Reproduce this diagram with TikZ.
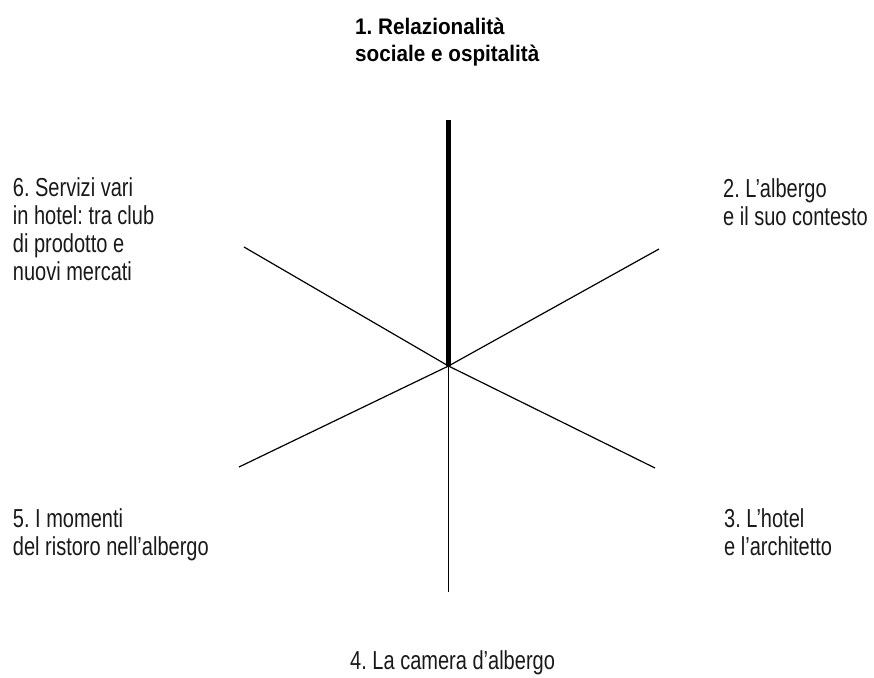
\documentclass[tikz,border=0pt]{standalone}
\usepackage{fontspec}
\setmainfont{Liberation Sans}[FakeStretch=0.77]
\newfontfamily\titlefont{Liberation Sans}[FakeStretch=0.92]
\frenchspacing
\begin{document}
\begin{tikzpicture}[x=1pt,y=-1pt,
  lbl/.style={inner sep=0pt,anchor=base west,align=left,font=\fontsize{26}{28}\selectfont,text=black!90},
  ttl/.style={inner sep=0pt,anchor=base west,align=left,font=\titlefont\bfseries\fontsize{22.5}{26.7}\selectfont},
  spoke/.style={line width=1.2pt},
  mainspoke/.style={line width=4.6pt}]
\useasboundingbox (0,0) rectangle (874,677);
\coordinate (c) at (448.5,366);
\coordinate (e1) at (448.5,120);
\coordinate (e2) at (659,249);
\coordinate (e3) at (655,468);
\coordinate (e4) at (448.5,592);
\coordinate (e5) at (239,467);
\coordinate (e6) at (244,247);
\draw[spoke] (c) -- (e2);
\draw[spoke] (c) -- (e3);
\draw[spoke] (c) -- (e4);
\draw[spoke] (c) -- (e5);
\draw[spoke] (c) -- (e6);
\draw[mainspoke] (c) -- (e1);
\node[ttl] (t1) at (355,61.7) {1. Relazionalità\\sociale e ospitalità};
\node[lbl] (t2) at (723,225) {2. L’albergo\\e il suo contesto};
\node[lbl] (t3) at (724,555) {3. L’hotel\\e l’architetto};
\node[lbl] (t4) at (350,669) {4. La camera d’albergo};
\node[lbl] (t5) at (12.7,555) {5. I momenti\\del ristoro nell’albergo};
\node[lbl] (t6) at (12.7,280.7) {6. Servizi vari\\in hotel: tra club\\di prodotto e\\nuovi mercati};
\end{tikzpicture}
\end{document}
